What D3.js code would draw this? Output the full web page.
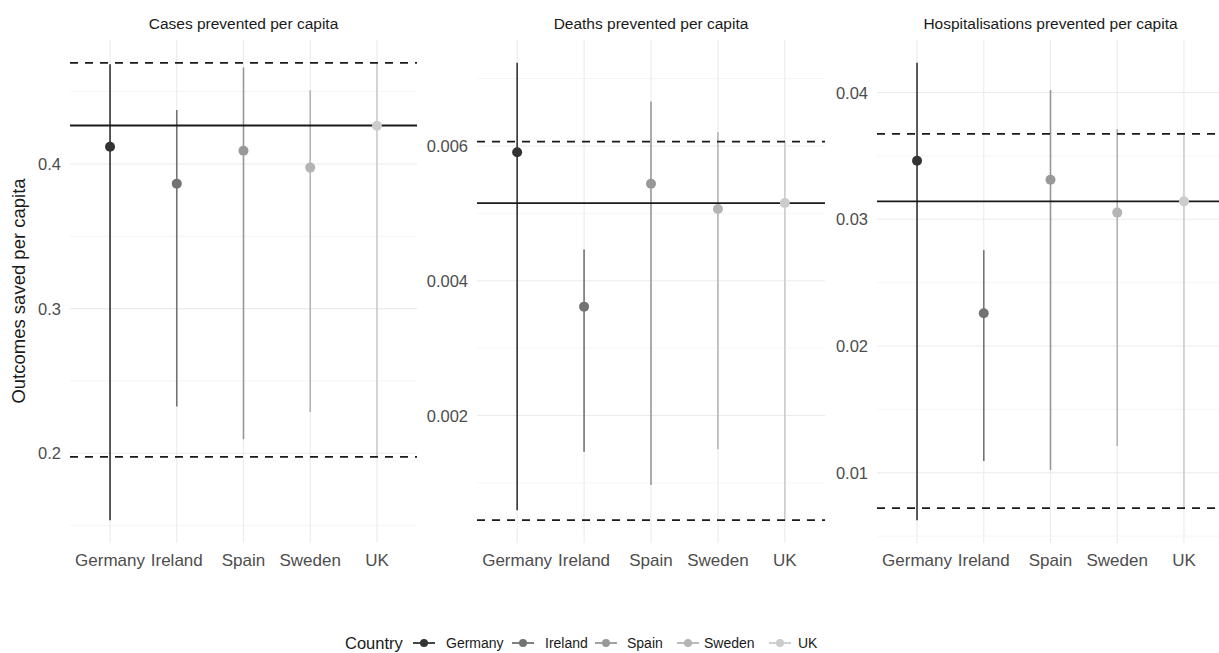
<!DOCTYPE html>
<html>
<head>
<meta charset="utf-8">
<script src="https://cdn.jsdelivr.net/npm/d3@7"></script>
<style>
  html, body { margin: 0; padding: 0; background: #fff; }
  svg { display: block; font-family: "Liberation Sans", Arial, sans-serif; }
</style>
</head>
<body>
<svg id="chart" width="1219" height="653"></svg>
<script>
// ---- Data ----
const countries = ["Germany", "Ireland", "Spain", "Sweden", "UK"];
const colors = ["#333333", "#737373", "#989898", "#B4B4B4", "#CCCCCC"];
const panelTitles = ["Cases prevented per capita", "Deaths prevented per capita", "Hospitalisations prevented per capita"];

const casesEst = [0.4119, 0.3864, 0.4092, 0.3975, 0.4264];
const casesLow = [0.1538, 0.2324, 0.2097, 0.2285, 0.1975];
const casesHigh = [0.4690, 0.4374, 0.4667, 0.4510, 0.4699];
const casesRef = [0.4266, 0.1975, 0.4699]; // UK estimate, lower, upper

const deathsEst = [0.005907, 0.003616, 0.005440, 0.005064, 0.005153];
const deathsLow = [0.000596, 0.001463, 0.000970, 0.001500, 0.000448];
const deathsHigh = [0.007233, 0.004464, 0.006661, 0.006203, 0.006065];
const deathsRef = [0.005153, 0.000448, 0.006065];

const hospEst = [0.034615, 0.022586, 0.033120, 0.030527, 0.031415];
const hospLow = [0.006258, 0.010920, 0.010213, 0.012100, 0.007201];
const hospHigh = [0.042343, 0.027563, 0.040200, 0.037130, 0.036737];
const hospRef = [0.031415, 0.007201, 0.036737];

const casesMajor = [0.2, 0.3, 0.4];
const casesMinor = [0.15, 0.25, 0.35, 0.45];
const deathsMajor = [0.002, 0.004, 0.006];
const deathsMinor = [0.001, 0.003, 0.005, 0.007];
const hospMajor = [0.01, 0.02, 0.03, 0.04];
const hospMinor = [0.005, 0.015, 0.025, 0.035];

const panels = [
  { title: panelTitles[0], est: casesEst, low: casesLow, high: casesHigh, ref: casesRef, major: casesMajor, minor: casesMinor, fmt: d3.format(".1f"), x0: 70, x1: 417 },
  { title: panelTitles[1], est: deathsEst, low: deathsLow, high: deathsHigh, ref: deathsRef, major: deathsMajor, minor: deathsMinor, fmt: d3.format(".3f"), x0: 477, x1: 825 },
  { title: panelTitles[2], est: hospEst, low: hospLow, high: hospHigh, ref: hospRef, major: hospMajor, minor: hospMinor, fmt: d3.format(".2f"), x0: 877, x1: 1224 }
];

const svg = d3.select("#chart");
const yTop = 40, yBottom = 543;

panels.forEach(p => {
  const all = p.low.concat(p.high, p.est, p.ref);
  const [mn, mx] = d3.extent(all);
  const pad = (mx - mn) * 0.05;
  const y = d3.scaleLinear().domain([mn - pad, mx + pad]).range([yBottom, yTop]);
  const x = d3.scalePoint().domain(countries).range([p.x0, p.x1]).padding(0.6);

  const g = svg.append("g");

  g.selectAll(".minor").data(p.minor).join("line")
    .attr("x1", p.x0).attr("x2", p.x1)
    .attr("y1", d => y(d)).attr("y2", d => y(d))
    .attr("stroke", "#efefef").attr("stroke-width", 0.7);
  g.selectAll(".major").data(p.major).join("line")
    .attr("x1", p.x0).attr("x2", p.x1)
    .attr("y1", d => y(d)).attr("y2", d => y(d))
    .attr("stroke", "#ebebeb").attr("stroke-width", 1.1);
  g.selectAll(".vmajor").data(countries).join("line")
    .attr("x1", d => x(d)).attr("x2", d => x(d))
    .attr("y1", yTop).attr("y2", yBottom)
    .attr("stroke", "#ebebeb").attr("stroke-width", 1.1);

  g.selectAll(".ylab").data(p.major).join("text")
    .attr("x", p.x0 - 9).attr("y", d => y(d))
    .attr("text-anchor", "end").attr("dominant-baseline", "central")
    .attr("fill", "#4d4d4d").attr("font-size", 16.5)
    .text(d => p.fmt(d));

  g.selectAll(".xlab").data(countries).join("text")
    .attr("x", d => x(d)).attr("y", 560)
    .attr("text-anchor", "middle").attr("dominant-baseline", "central")
    .attr("fill", "#4d4d4d").attr("font-size", 17)
    .text(d => d);

  g.append("text")
    .attr("x", (p.x0 + p.x1) / 2).attr("y", 23)
    .attr("text-anchor", "middle").attr("dominant-baseline", "central")
    .attr("fill", "#1a1a1a").attr("font-size", 15.5)
    .text(p.title);

  g.selectAll(".err").data(countries).join("line")
    .attr("x1", d => x(d)).attr("x2", d => x(d))
    .attr("y1", (d, i) => y(p.low[i])).attr("y2", (d, i) => y(p.high[i]))
    .attr("stroke", (d, i) => colors[i]).attr("stroke-width", 1.6);

  g.append("line").attr("x1", p.x0).attr("x2", p.x1)
    .attr("y1", y(p.ref[0])).attr("y2", y(p.ref[0]))
    .attr("stroke", "#1a1a1a").attr("stroke-width", 1.8);
  [p.ref[1], p.ref[2]].forEach(v => {
    g.append("line").attr("x1", p.x0).attr("x2", p.x1)
      .attr("y1", y(v)).attr("y2", y(v))
      .attr("stroke", "#1a1a1a").attr("stroke-width", 1.8)
      .attr("stroke-dasharray", "8,7");
  });

  g.selectAll(".pt").data(countries).join("circle")
    .attr("cx", d => x(d)).attr("cy", (d, i) => y(p.est[i]))
    .attr("r", 5).attr("fill", (d, i) => colors[i]);
});

svg.append("text")
  .attr("transform", "translate(18,291) rotate(-90)")
  .attr("text-anchor", "middle").attr("dominant-baseline", "central")
  .attr("fill", "#1a1a1a").attr("font-size", 18.5)
  .text("Outcomes saved per capita");

const lg = svg.append("g");
lg.append("text").attr("x", 345).attr("y", 643)
  .attr("dominant-baseline", "central").attr("fill", "#1a1a1a").attr("font-size", 16.5)
  .text("Country");
const keyX = [413, 512, 595, 677, 769];
const labX = [446, 545, 627, 704, 798];
countries.forEach((c, i) => {
  lg.append("line").attr("x1", keyX[i]).attr("x2", keyX[i] + 22)
    .attr("y1", 643).attr("y2", 643)
    .attr("stroke", colors[i]).attr("stroke-width", 1.8);
  lg.append("circle").attr("cx", keyX[i] + 11).attr("cy", 643).attr("r", 4)
    .attr("fill", colors[i]);
  lg.append("text").attr("x", labX[i]).attr("y", 643)
    .attr("dominant-baseline", "central").attr("fill", "#1a1a1a").attr("font-size", 14)
    .text(c);
});
</script>
</body>
</html>
